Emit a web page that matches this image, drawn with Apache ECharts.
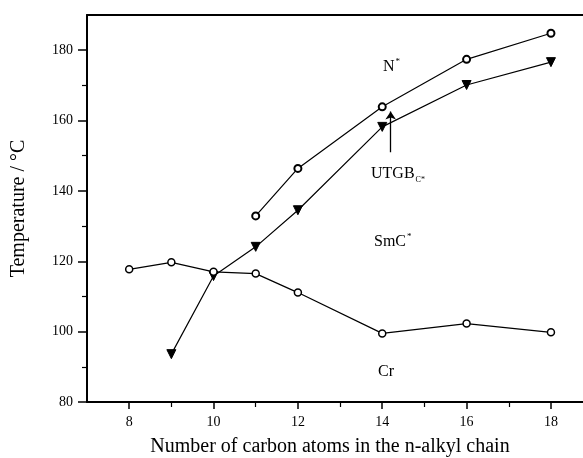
<!DOCTYPE html>
<html>
<head>
<meta charset="utf-8">
<script src="https://cdn.jsdelivr.net/npm/echarts@6/dist/echarts.min.js"></script>
<style>
  html, body { margin: 0; padding: 0; background: #fff; }
  #chart { width: 583px; height: 458px; }
</style>
</head>
<body>
<div id="chart"></div>
<script>
// carbon number -> transition temperature (°C)
const crX = [8, 9, 10, 11, 12, 14, 16, 18];
const crY = [117.7, 119.7, 117.0, 116.5, 111.1, 99.5, 102.3, 99.8];
const utgbX = [9, 10, 11, 12, 14, 16, 18];
const utgbY = [93.6, 115.8, 124.1, 134.5, 158.2, 170.1, 176.6];
const nX = [11, 12, 14, 16, 18];
const nY = [132.9, 146.4, 163.9, 177.4, 184.8];
const arrowPts = [[14.2, 151], [14.2, 162.6]];

const xMajor = [8, 10, 12, 14, 16, 18];
const xMinor = [9, 11, 13, 15, 17];
const yMajor = [80, 100, 120, 140, 160, 180];
const yMinor = [90, 110, 130, 150, 170];

const zip = (xs, ys) => xs.map((x, i) => [x, ys[i]]);
const serif = 'Liberation Serif';
const X_MIN = 7, X_MAX = 18.76, Y_MIN = 80, Y_MAX = 190;

const chart = echarts.init(document.getElementById('chart'), null, { renderer: 'canvas' });

const lineStyle = { color: '#000', width: 1.2 };
const hidden = { show: false };

chart.setOption({
  animation: false,
  grid: { left: 87, right: 0, top: 15, bottom: 56, outerBoundsMode: 'none', containLabel: false },
  xAxis: [
    {
      type: 'value', min: X_MIN, max: X_MAX, interval: 1, position: 'bottom',
      name: 'Number of carbon atoms in the n-alkyl chain',
      nameLocation: 'middle', nameGap: 35,
      nameTextStyle: { fontFamily: serif, fontSize: 20, color: '#000', padding: [0, 10, 0, 0] },
      axisLine: { onZero: false, lineStyle: { color: '#000', width: 2 } },
      axisTick: { show: true, customValues: xMajor, length: 7, lineStyle: { color: '#000', width: 1.5 } },
      axisLabel: { customValues: xMajor, fontFamily: serif, fontSize: 14, color: '#000', margin: 13 },
      splitLine: hidden
    },
    {
      // odd-number minor ticks
      type: 'value', min: X_MIN, max: X_MAX, interval: 1, position: 'bottom', offset: 0,
      axisLine: hidden,
      axisTick: { show: true, customValues: xMinor, length: 5, lineStyle: { color: '#000', width: 1.2 } },
      axisLabel: hidden, splitLine: hidden
    },
    {
      // top frame line
      type: 'value', min: X_MIN, max: X_MAX, position: 'top',
      axisLine: { onZero: false, lineStyle: { color: '#000', width: 2 } },
      axisTick: hidden, axisLabel: hidden, splitLine: hidden
    }
  ],
  yAxis: [
    {
      type: 'value', min: Y_MIN, max: Y_MAX, interval: 10, position: 'left',
      name: 'Temperature / °C',
      nameLocation: 'middle', nameGap: 58,
      nameTextStyle: { fontFamily: serif, fontSize: 20, color: '#000' },
      axisLine: { onZero: false, lineStyle: { color: '#000', width: 2 } },
      axisTick: { show: true, customValues: yMajor, length: 9, lineStyle: { color: '#000', width: 1.5 } },
      axisLabel: { customValues: yMajor, fontFamily: serif, fontSize: 14, color: '#000', margin: 14 },
      splitLine: hidden
    },
    {
      type: 'value', min: Y_MIN, max: Y_MAX, interval: 10, position: 'left', offset: 0,
      axisLine: hidden,
      axisTick: { show: true, customValues: yMinor, length: 5, lineStyle: { color: '#000', width: 1.2 } },
      axisLabel: hidden, splitLine: hidden
    }
  ],
  series: [
    {
      name: 'Cr', type: 'line', data: zip(crX, crY),
      symbol: 'circle', symbolSize: 7,
      itemStyle: { color: '#fff', borderColor: '#000', borderWidth: 1.5 },
      lineStyle: lineStyle, z: 3
    },
    {
      name: 'UTGB', type: 'line', data: zip(utgbX, utgbY),
      symbol: 'triangle', symbolRotate: 180, symbolSize: 9,
      itemStyle: { color: '#000', borderColor: '#000', borderWidth: 1 },
      lineStyle: lineStyle, z: 2
    },
    {
      name: 'N', type: 'line', data: zip(nX, nY),
      symbol: 'circle', symbolSize: 7,
      itemStyle: { color: '#fff', borderColor: '#000', borderWidth: 2 },
      lineStyle: lineStyle, z: 3
    },
    {
      name: 'arrow', type: 'lines', coordinateSystem: 'cartesian2d',
      data: [{ coords: arrowPts }],
      symbol: ['none', 'arrow'], symbolSize: 8,
      lineStyle: { color: '#000', width: 1.3, opacity: 1 }, z: 4
    }
  ],
  graphic: [
    {
      type: 'text', left: 383, top: 57,
      style: {
        text: '{b|N}{s|*}', fontFamily: serif,
        rich: { b: { fontSize: 16, fontFamily: serif, fill: '#000' },
                s: { fontSize: 9, fontFamily: serif, fill: '#000', verticalAlign: 'top', padding: [0, 0, 10, 1] } }
      }
    },
    {
      type: 'text', left: 371, top: 166,
      style: {
        text: '{b|UTGB}{s|C*}', fontFamily: serif,
        rich: { b: { fontSize: 16, fontFamily: serif, fill: '#000' },
                s: { fontSize: 8, fontFamily: serif, fill: '#000', verticalAlign: 'bottom', padding: [12, 0, 0, 1] } }
      }
    },
    {
      type: 'text', left: 374, top: 232,
      style: {
        text: '{b|SmC}{s|*}', fontFamily: serif,
        rich: { b: { fontSize: 16, fontFamily: serif, fill: '#000' },
                s: { fontSize: 9, fontFamily: serif, fill: '#000', verticalAlign: 'top', padding: [0, 0, 10, 1] } }
      }
    },
    {
      type: 'text', left: 378, top: 364,
      style: { text: 'Cr', fontFamily: serif, fontSize: 16, fill: '#000' }
    }
  ]
});
</script>
</body>
</html>
